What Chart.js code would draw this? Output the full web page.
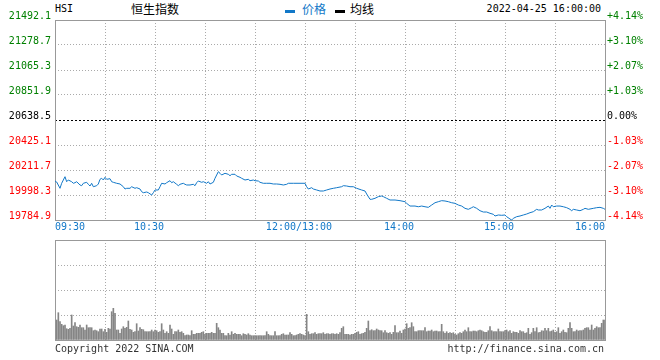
<!DOCTYPE html>
<html><head><meta charset="utf-8">
<script src="https://cdn.jsdelivr.net/npm/chart.js@4.4.1/dist/chart.umd.min.js"></script>
<style>
body{margin:0;background:#fff;width:660px;height:360px;overflow:hidden;position:relative;font-family:"DejaVu Sans Mono",monospace;}
.t{position:absolute;white-space:pre;font-size:10px;line-height:12px;color:#000;}
.cjk{position:absolute;white-space:pre;font-family:"Noto Sans CJK SC",sans-serif;font-size:12px;line-height:14px;}
.mk{position:absolute;width:10px;height:3px;}
#c1{position:absolute;left:0;top:0;}
#c2{position:absolute;left:0;top:235px;}
</style></head><body>
<div class="t" style="left:55px;top:3px;">HSI</div>
<div class="cjk" style="left:131px;top:2px;color:#000;">恒生指数</div>
<div class="mk" style="left:285px;top:10px;background:#1278c8;"></div>
<div class="cjk" style="left:302px;top:2px;color:#1278c8;">价格</div>
<div class="mk" style="left:335px;top:10px;background:#000;"></div>
<div class="cjk" style="left:350px;top:2px;color:#000;">均线</div>
<div class="t" style="right:59px;top:3px;">2022-04-25 16:00:00</div>
<canvas id="c1" width="660" height="240"></canvas>
<canvas id="c2" width="660" height="110"></canvas>
<div class="t" style="left:55px;top:343px;color:#333;">Copyright 2022 SINA.COM</div>
<div class="t" style="right:56px;top:343px;color:#333;">http://finance.sina.com.cn</div>
<script>
// ---- data ----
// minutes since 09:30 (lunch break removed: 150 = 12:00/13:00, 330 = 16:00)
const priceMinutes = [0,1,3,4,6,7,8,10,11,12,13,15,16,17,19,20,21,22,23,25,26,27,28,29,30,31,33,34,35,37,39,41,42,43,45,46,48,49,51,52,53,55,56,58,59,60,62,63,64,66,67,69,70,71,73,74,75,77,78,79,81,83,84,85,86,88,89,91,92,93,95,96,98,99,100,102,104,105,106,108,109,111,112,114,116,117,119,120,122,123,125,127,129,131,133,135,137,139,140,143,147,150,
151,152,154,155,157,159,161,163,165,167,169,172,173,175,177,179,181,184,186,187,189,190,192,194,196,197,199,201,204,207,210,211,213,216,218,220,222,224,226,228,230,232,234,236,238,240,242,244,246,248,250,251,253,255,257,259,261,263,264,266,268,270,271,273,274,275,277,279,281,283,285,287,289,290,292,294,296,297,298,299,301,303,305,307,309,310,311,313,315,317,318,320,323,325,327,329,330];
const priceValues = [20117.8,20109.3,20055.5,20098.2,20154.5,20111.8,20126.3,20111.8,20098.2,20103.3,
20111.8,20083.7,20077.7,20098.2,20106.7,20089.6,20075.1,20098.2,20069.1,20077.7,
20092.2,20132.3,20140.9,20126.3,20149.4,20132.3,20137.4,20111.8,20106.7,20098.2,
20092.2,20069.1,20049.5,20055.5,20055.5,20069.1,20055.5,20060.6,20049.5,20026.5,
20017.9,20023.9,20017.9,19998.3,20017.9,20041.0,20041.0,20069.1,20098.2,20092.2,
20103.3,20120.4,20103.3,20111.8,20089.6,20077.7,20089.6,20098.2,20089.6,20083.7,
20083.7,20089.6,20077.7,20103.3,20117.8,20106.7,20111.8,20098.2,20111.8,20092.2,
20106.7,20140.9,20197.2,20183.5,20169.0,20183.5,20175.0,20163.0,20175.0,20175.0,
20160.5,20149.4,20140.9,20126.3,20132.3,20120.4,20126.3,20120.4,20117.8,20106.7,
20098.2,20098.2,20098.2,20092.2,20092.2,20089.6,20083.7,20089.6,20098.2,20098.2,
20098.2,20098.2,
20069.1,20049.5,20060.6,20049.5,20041.0,20032.4,20032.4,20041.0,20049.5,20055.5,
20060.6,20069.1,20077.7,20075.1,20069.1,20069.1,20055.5,20041.0,20032.4,20006.9,
19961.6,19961.6,19970.1,19984.1,19989.8,19984.1,19970.1,19955.6,19955.6,19950.0,
19941.1,19927.2,19904.1,19904.1,19898.1,19904.1,19898.1,19893.0,19912.7,19932.3,
19941.1,19950.0,19947.1,19941.1,19932.3,19927.2,19912.7,19904.1,19884.5,19876.0,
19890.0,19898.1,19884.5,19864.0,19853.0,19853.0,19842.1,19833.5,19819.0,19827.6,
19825.0,19827.6,19813.1,19793.5,19784.9,19799.3,19813.1,19819.0,19827.6,19836.1,
19847.2,19855.6,19876.0,19870.3,19870.3,19884.5,19904.1,19884.5,19912.7,19898.1,
19904.1,19904.1,19898.1,19890.0,19876.0,19864.0,19876.0,19870.3,19864.0,19876.0,
19884.5,19876.0,19884.5,19890.0,19893.0,19884.5,19876.0];
// per-minute volume (relative units), morning minutes 1..150, afternoon minutes 151..330
const volumeAM = [20,27.3,18.3,15.7,14.3,15,11.3,10.7,11.7,25,
14,17.3,13.3,12.7,15,12.3,12.3,10,15,12.3,
12.3,12.3,9.3,10,9.3,8.3,11,11,8.3,10.7,
7.7,11.7,11,28.3,31.7,26.7,10,10,6.7,11,
13.3,11.7,12.7,19,10.7,10,7.7,8.3,16.3,9,
12.3,10.7,10.3,8.3,8.3,8.3,8.3,10,8.3,10,
9.3,7.7,8.3,16.3,10,6.7,8.3,6.7,15,11,
5.7,8.3,8.3,10,7.7,8.3,6.7,4.3,5,5,
4.3,9.3,5.7,5.7,6.7,6.7,6.7,7.7,8.3,5.7,
6.7,6.7,6.7,7.7,6.7,6.7,16.7,12.3,10,6.7,
6.7,4.3,4.3,6.7,5,8.3,5.7,6.7,5.7,
5.7,5.7,4.3,6.3,5.7,5,6.3,5,4.3,4.3,
4.3,4.3,4.3,4.3,4.3,4.3,4.3,8.3,5.7,4.3,
4.3,4.3,8.3,4.3,4.3,4.3,5.7,6.3,5,5,
5,7.3,5.7,4.3,4.3,5,5.7,6.3,5.7,5,
4.3];
const volumePM = [25.7,
8.3,5.7,6.3,6.3,7.3,5.7,6.3,6.3,6.3,7.3,
5.7,6.3,6.3,5.7,6.3,6.3,5.7,6.3,5.7,7.3,
11.7,13.3,5.7,5.7,5.7,5,5.7,5.7,6.7,7.7,
8.3,5.7,6.3,6.7,7.7,11.7,19,9.3,10.3,9.3,
9.3,11,10,9.3,9.3,7.3,9.3,7.3,6.7,7.3,
5.7,7.7,14.3,7.3,7.3,9,6.7,10,11,16.3,
11.7,12.3,17.3,13.3,8.3,8.3,9.3,9.3,9.3,
9.3,
12.3,8.3,9,9,10,8.3,9,9,8.3,8.3,
15.7,8.3,6.7,8.3,6.7,7.3,6.7,7.3,5.7,5,
6.3,7.3,6.7,8.3,10,8.3,12.3,8.3,8.3,9,
9,8.3,9.3,10,9.3,8.3,7.7,7.7,9.3,13.3,
9.3,8.3,8.3,8.3,11,8.3,8.3,8.3,9.3,10,
8.3,9.3,6.7,8.3,7.7,7.7,6.7,9.3,8.3,8.3,
6.7,7.3,11.7,5.7,7.3,11.7,8.3,12.3,7.3,7.7,
9.3,9,11.7,9.3,11.7,8.3,9,10,7.7,8.3,
12.3,6.7,8.3,10,7.7,7.3,11.7,17.3,11.7,8.3,
8.3,10,9,9.3,9.3,10,11.7,12.3,12.3,10,
15,10,11.7,13.3,12.3,12.3,16.7,20,20];
const priceTickLabels = ['19784.9','19998.3','20211.7','20425.1','20638.5','20851.9','21065.3','21278.7','21492.1'];
const pctTickLabels = ['-4.14%','-3.10%','-2.07%','-1.03%','0.00%','+1.03%','+2.07%','+3.10%','+4.14%'];
const xTickMinutes = [0,60,150,210,270,330];
const xTickLabels = ['09:30','10:30','12:00/13:00','14:00','15:00','16:00'];
const gridMinutes = [0,30,60,90,120,150,180,210,240,270,300,330];
const volGrid = [0,25,50,75,100];

// ---- style ----
const BLUE = '#1278c8', GRID = '#aaaaaa', FRAME = '#999999';
const FONT = {family:'DejaVu Sans Mono', size:10};
Chart.defaults.font.family = 'DejaVu Sans Mono';
Chart.defaults.font.size = 10;
const priceTickVals = priceTickLabels.map(Number);
const zeroIdx = 4;
const tickColor = ctx => ctx.index < zeroIdx ? '#ff0000' : (ctx.index === zeroIdx ? '#000000' : '#008000');

const framePlugin = {id:'frame', beforeDatasetsDraw(chart){
  const {ctx, chartArea:a} = chart;
  ctx.save(); ctx.strokeStyle = FRAME; ctx.lineWidth = 1;
  ctx.strokeRect(Math.round(a.left)+0.5, Math.round(a.top)+0.5, Math.round(a.right-a.left), Math.round(a.bottom-a.top));
  ctx.restore();
}};

const xScale = (showLabels) => ({
  type:'linear', min:0, max:330, offset:false,
  afterBuildTicks: s => { s.ticks = gridMinutes.map(v => ({value:v})); },
  afterFit: s => { s.height = showLabels ? 20 : 0; },
  ticks: {display:showLabels, autoSkip:false, maxRotation:0, align:'inner', padding:1, color:BLUE, font:FONT,
    callback: (v) => { const i = xTickMinutes.indexOf(v); if (i < 0) return '';
      const l = xTickLabels[i]; return (i > 0 && i < xTickLabels.length-1) ? l + '  ' : l; }},
  grid: {color:GRID, drawTicks:false, lineWidth:1, offset:false},
  border: {display:false, dash:[1,2]}
});

new Chart(document.getElementById('c1'), {
  type:'line',
  data:{datasets:[{label:'价格', data: priceMinutes.map((t,i)=>({x:t, y:priceValues[i]})),
    borderColor:BLUE, borderWidth:1, pointRadius:0, tension:0, fill:false, clip:3}]},
  options:{
    responsive:false, animation:false, devicePixelRatio:1,
    layout:{padding:{top:20, left:0, right:0, bottom:0}},
    plugins:{legend:{display:false}, tooltip:{enabled:false}},
    scales:{
      x: xScale(true),
      y: {position:'left', min:priceTickVals[0], max:priceTickVals[priceTickVals.length-1],
        afterBuildTicks: s => { s.ticks = priceTickVals.map(v => ({value:v})); },
        afterFit: s => { s.width = 55; },
        ticks:{padding:4, labelOffset:-3.5, font:FONT, color:tickColor, callback:(v,i)=>priceTickLabels[i]},
        grid:{color: ctx => ctx.index === zeroIdx ? '#000000' : GRID, drawTicks:false},
        border:{display:false, dash: ctx => ctx.index === zeroIdx ? [2,2] : [1,2]}},
      y2: {position:'right', min:priceTickVals[0], max:priceTickVals[priceTickVals.length-1],
        afterBuildTicks: s => { s.ticks = priceTickVals.map(v => ({value:v})); },
        afterFit: s => { s.width = 55; },
        ticks:{padding:2, labelOffset:-3.5, font:FONT, color:tickColor, callback:(v,i)=>pctTickLabels[i]},
        grid:{drawOnChartArea:false, drawTicks:false},
        border:{display:false}}
    }
  },
  plugins:[framePlugin]
});

const volData = volumeAM.map((v,i)=>({x:i+1, y:v})).concat(volumePM.map((v,i)=>({x:i+151, y:v})));
new Chart(document.getElementById('c2'), {
  type:'bar',
  data:{datasets:[{label:'成交量', data:volData, backgroundColor:'#858585', borderWidth:0, barThickness:1}]},
  options:{
    responsive:false, animation:false, devicePixelRatio:1,
    layout:{padding:{top:5, left:55, right:55, bottom:5}},
    plugins:{legend:{display:false}, tooltip:{enabled:false}},
    scales:{
      x: xScale(false),
      y: {min:0, max:100,
        afterBuildTicks: s => { s.ticks = volGrid.map(v => ({value:v})); },
        afterFit: s => { s.width = 0; },
        ticks:{display:false},
        grid:{color:GRID, drawTicks:false},
        border:{display:false, dash:[1,2]}}
    }
  },
  plugins:[framePlugin]
});
</script>
</body></html>
